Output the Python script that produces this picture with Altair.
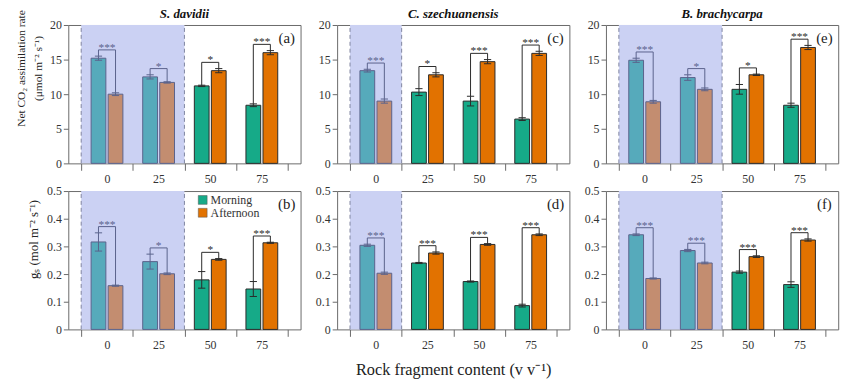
import altair as alt
import pandas as pd

# ---------------- data ----------------
species = ["S. davidii", "C. szechuanensis", "B. brachycarpa"]
tags_top = ["(a)", "(c)", "(e)"]
tags_bottom = ["(b)", "(d)", "(f)"]
rock_labels = ["0", "25", "50", "75"]
periods = ["Morning", "Afternoon"]
shaded_groups = [2, 1, 2]  # number of leading rock levels in the shaded zone

# Net CO2 assimilation rate (umol m-2 s-1)
pn_sd_m = [15.2, 12.5, 11.2, 8.4]
pn_sd_m_se = [0.3, 0.3, 0.1, 0.2]
pn_sd_a = [10.0, 11.7, 13.4, 16.0]
pn_sd_a_se = [0.2, 0.1, 0.3, 0.3]
pn_sd_sig = ["***", "*", "*", "***"]

pn_cs_m = [13.4, 10.3, 9.0, 6.4]
pn_cs_m_se = [0.2, 0.5, 0.7, 0.2]
pn_cs_a = [9.0, 12.8, 14.7, 15.9]
pn_cs_a_se = [0.3, 0.3, 0.3, 0.3]
pn_cs_sig = ["***", "*", "***", "***"]

pn_bb_m = [14.9, 12.4, 10.7, 8.4]
pn_bb_m_se = [0.3, 0.4, 0.7, 0.3]
pn_bb_a = [8.9, 10.7, 12.8, 16.75]
pn_bb_a_se = [0.2, 0.2, 0.1, 0.3]
pn_bb_sig = ["***", "*", "*", "***"]

# Stomatal conductance gs (mol m-2 s-1)
gs_sd_m = [0.316, 0.245, 0.179, 0.146]
gs_sd_m_se = [0.033, 0.027, 0.030, 0.027]
gs_sd_a = [0.158, 0.201, 0.253, 0.313]
gs_sd_a_se = [0.002, 0.003, 0.003, 0.002]
gs_sd_sig = ["***", "*", "*", "***"]

gs_cs_m = [0.304, 0.240, 0.173, 0.086]
gs_cs_m_se = [0.004, 0.002, 0.002, 0.005]
gs_cs_a = [0.203, 0.276, 0.307, 0.342]
gs_cs_a_se = [0.004, 0.004, 0.003, 0.003]
gs_cs_sig = ["***", "***", "***", "***"]

gs_bb_m = [0.342, 0.285, 0.207, 0.162]
gs_bb_m_se = [0.003, 0.004, 0.004, 0.010]
gs_bb_a = [0.184, 0.240, 0.263, 0.323]
gs_bb_a_se = [0.002, 0.003, 0.003, 0.004]
gs_bb_sig = ["***", "***", "***", "***"]

pn_title = ["Net CO\u2082 assimilation rate", "(\u03bcmol m\u207b\u00b2 s\u207b\u00b9)"]
gs_title = ["g\u209b (mol m\u207b\u00b2 s\u207b\u00b9)"]
x_title = "Rock fragment content (v v\u207b\u00b9)"

# ---------------- style ----------------
W, H = 235, 140
SERIF = "Liberation Serif"
SHADE = "#CBD1F3"
FILL_SHADED = {"Morning": "#56AABB", "Afternoon": "#C38D70"}
FILL_OPEN = {"Morning": "#16AA88", "Afternoon": "#E27200"}
LINE_SHADED = "#5A628C"
LINE_OPEN = "#2b2b2b"
OFFSET = 0.165
HALF = 0.143
CAP = 0.07

XDOMAIN = [-0.75, 3.75]
x_ticks = [i - 0.5 for i in range(len(rock_labels) + 1)]
label_expr = "".join(
    f"datum.value < {i} ? '{lab}' : " for i, lab in enumerate(rock_labels)
) + "''"


def panel(m, mse, a, ase, sig, n_shade, ymax, yticks, tag, title=None,
          ytitle=None, ytitle_x=(), ytitle_y=44, ytitle_size=11.5,
          xtitle=None, legend=False):
    xs = alt.Scale(domain=XDOMAIN, nice=False, zero=False)
    ys = alt.Scale(domain=[0, ymax], nice=False)
    bars, errs, caps, brk, stars = [], [], [], [], []
    for i in range(len(rock_labels)):
        shaded = i < n_shade
        fills = FILL_SHADED if shaded else FILL_OPEN
        line = LINE_SHADED if shaded else LINE_OPEN
        vals = {"Morning": (m[i], mse[i], i - OFFSET),
                "Afternoon": (a[i], ase[i], i + OFFSET)}
        for p in periods:
            v, e, c = vals[p]
            bars.append(dict(x0=c - HALF, x1=c + HALF, y0=0, v=v,
                             fill=fills[p], stroke=line))
            errs.append(dict(xc=c, lo=v - e, hi=v + e, col=line))
            for yy in (v - e, v + e):
                caps.append(dict(c0=c - CAP, c1=c + CAP, yc=yy, col=line))
        top_m = m[i] + mse[i]
        top_a = a[i] + ase[i]
        b = max(top_m, top_a) + 0.045 * ymax
        cm, ca = i - OFFSET, i + OFFSET
        brk += [dict(bx=cm, bx2=cm, by=top_m, by2=b, col=line),
                dict(bx=cm, bx2=ca, by=b, by2=b, col=line),
                dict(bx=ca, bx2=ca, by=top_a, by2=b, col=line)]
        stars.append(dict(sx=i, sy=b, s=sig[i], col=line))

    xaxis = alt.Axis(values=x_ticks, labelExpr=label_expr, labelOffset=26,
                     tickSize=7, domain=False, grid=False, labelOverlap=False,
                     labelPadding=3, titlePadding=12, titleFontSize=16.5,
                     title=xtitle if xtitle else "")
    yaxis = alt.Axis(values=yticks, tickSize=5, domain=False, grid=False,
                     labelExpr="datum.value == 0 ? '0' : format(datum.value, '" +
                     (".1f" if ymax < 1 else "d") + "')",
                     labelPadding=2, title="")

    def X(field):
        return alt.X(field, scale=xs, axis=xaxis)

    def Y(field):
        return alt.Y(field, scale=ys, axis=yaxis)

    shade_df = pd.DataFrame([dict(x0=-0.5, x1=n_shade - 0.5, y0=0, y1=ymax)])
    dash_df = pd.DataFrame([dict(x0=-0.5, y0=0, y1=ymax),
                            dict(x0=n_shade - 0.5, y0=0, y1=ymax)])

    shade = alt.Chart(shade_df).mark_rect(color=SHADE).encode(
        x=X("x0:Q"), x2="x1:Q", y=Y("y0:Q"), y2="y1:Q")
    dashes = alt.Chart(dash_df).mark_rule(
        color="#7F85A0", strokeDash=[4, 3], strokeWidth=1).encode(
        x=X("x0:Q"), y=Y("y0:Q"), y2="y1:Q")
    bar = alt.Chart(pd.DataFrame(bars)).mark_rect(strokeWidth=1).encode(
        x=X("x0:Q"), x2="x1:Q", y=Y("y0:Q"), y2="v:Q",
        fill=alt.Fill("fill:N", scale=None),
        stroke=alt.Stroke("stroke:N", scale=None))
    err = alt.Chart(pd.DataFrame(errs)).mark_rule(strokeWidth=1).encode(
        x=X("xc:Q"), y=Y("lo:Q"), y2="hi:Q",
        color=alt.Color("col:N", scale=None))
    cap = alt.Chart(pd.DataFrame(caps)).mark_rule(strokeWidth=1).encode(
        x=X("c0:Q"), x2="c1:Q", y=Y("yc:Q"),
        color=alt.Color("col:N", scale=None))
    bracket = alt.Chart(pd.DataFrame(brk)).mark_rule(strokeWidth=1).encode(
        x=X("bx:Q"), x2="bx2:Q", y=Y("by:Q"), y2="by2:Q",
        color=alt.Color("col:N", scale=None))
    star = alt.Chart(pd.DataFrame(stars)).mark_text(
        font=SERIF, fontSize=11.5, baseline="alphabetic", dy=1).encode(
        x=X("sx:Q"), y=Y("sy:Q"), text="s:N",
        color=alt.Color("col:N", scale=None))
    tag_txt = alt.Chart(pd.DataFrame([dict(t=tag)])).mark_text(
        font=SERIF, fontSize=15, align="center", baseline="middle",
        color="#222").encode(x=alt.value(W - 14), y=alt.value(13), text="t:N")

    layers = [shade, dashes, bar, err, cap, bracket, star, tag_txt]
    if title:
        layers.append(alt.Chart(pd.DataFrame([dict(t=title)])).mark_text(
            font=SERIF, fontSize=13, fontStyle="italic", fontWeight="bold",
            align="center", baseline="middle", color="#111").encode(
            x=alt.value(W / 2), y=alt.value(-11), text="t:N"))
    if ytitle:
        for k, line_txt in enumerate(ytitle):
            layers.append(alt.Chart(pd.DataFrame([dict(t=line_txt)])).mark_text(
                font=SERIF, fontSize=ytitle_size, angle=270, align="center",
                baseline="middle", color="#222").encode(
                x=alt.value(ytitle_x[k]), y=alt.value(ytitle_y), text="t:N"))
    if legend:
        for k, p in enumerate(periods):
            ld = pd.DataFrame([dict(lab=p, col=FILL_OPEN[p])])
            layers.append(alt.Chart(ld).mark_square(
                size=80, opacity=1, stroke="#555", strokeWidth=0.5).encode(
                x=alt.value(136), y=alt.value(9 + 13 * k),
                fill=alt.Fill("col:N", scale=None)))
            layers.append(alt.Chart(ld).mark_text(
                font=SERIF, fontSize=12, align="left", baseline="middle",
                color="#333").encode(
                x=alt.value(144), y=alt.value(9 + 13 * k), text="lab:N"))

    return alt.layer(*layers).properties(width=W, height=H)


pn_ticks = [0, 5, 10, 15, 20]
gs_ticks = [0, 0.1, 0.2, 0.3, 0.4, 0.5]

a = panel(pn_sd_m, pn_sd_m_se, pn_sd_a, pn_sd_a_se, pn_sd_sig, shaded_groups[0],
          20, pn_ticks, tags_top[0], species[0], ytitle=pn_title,
          ytitle_x=(-47, -30), ytitle_y=44, ytitle_size=11.5)
c = panel(pn_cs_m, pn_cs_m_se, pn_cs_a, pn_cs_a_se, pn_cs_sig, shaded_groups[1],
          20, pn_ticks, tags_top[1], species[1])
e = panel(pn_bb_m, pn_bb_m_se, pn_bb_a, pn_bb_a_se, pn_bb_sig, shaded_groups[2],
          20, pn_ticks, tags_top[2], species[2])
b = panel(gs_sd_m, gs_sd_m_se, gs_sd_a, gs_sd_a_se, gs_sd_sig, shaded_groups[0],
          0.5, gs_ticks, tags_bottom[0], ytitle=gs_title,
          ytitle_x=(-35,), ytitle_y=49, ytitle_size=13, legend=True)
d = panel(gs_cs_m, gs_cs_m_se, gs_cs_a, gs_cs_a_se, gs_cs_sig, shaded_groups[1],
          0.5, gs_ticks, tags_bottom[1], xtitle=x_title)
f = panel(gs_bb_m, gs_bb_m_se, gs_bb_a, gs_bb_a_se, gs_bb_sig, shaded_groups[2],
          0.5, gs_ticks, tags_bottom[2])

chart = alt.concat(a, c, e, b, d, f, columns=3,
                   spacing={"row": 28, "column": 37}, bounds="flush").properties(
    padding={"left": 7, "top": -3, "right": 5, "bottom": 0}
).configure_view(stroke="#6a6a6a", strokeWidth=1).configure_axis(
    labelFont=SERIF, labelFontSize=12, labelColor="#333",
    tickColor="#6a6a6a", titleFont=SERIF, titleFontSize=14,
    titleFontWeight="normal", titleColor="#222"
)

chart.save("out.html", embed_options={"renderer": "svg", "actions": False})
